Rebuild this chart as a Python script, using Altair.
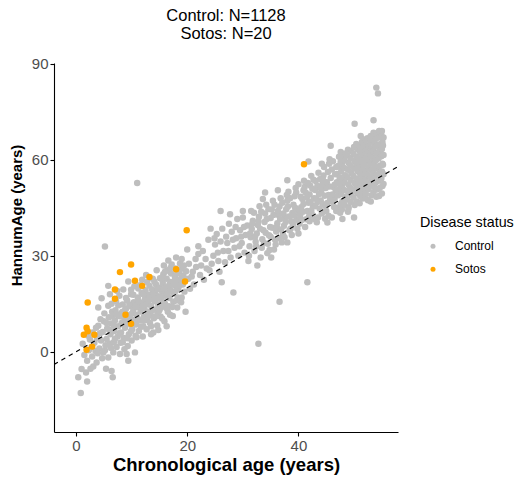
import altair as alt
import pandas as pd

# Sotos patients
sotos_age = [19.9, 9.9, 7.9, 18.0, 13.2, 10.6, 11.9, 19.6, 7.0, 7.0, 2.1, 8.9, 9.9, 1.9, 2.1, 1.4, 3.3, 2.9, 1.9, 41.0]
sotos_hannum = [38.0, 27.3, 24.9, 25.8, 23.4, 22.2, 20.6, 22.0, 19.5, 16.6, 15.4, 11.6, 8.75, 7.5, 6.4, 5.3, 5.3, 1.6, 0.6, 58.6]

# Control cloud (approximate reading of the picture), [age, HannumAge]
ctrl_child = [
    [0.4, -8.0], [0.85, -12.9], [1.0, -5.4], [2.0, -9.3], [2.0, -2.8], [2.6, -5.3], [3.1, -4.6], [3.7, -3.4],
    [1.5, -1.0], [2.3, 0.5], [1.2, 2.5], [2.8, 1.5], [2.5, 3.8], [3.3, 2.8], [1.8, -6.5], [3.0, 6.0],
    [2.2, 5.0], [3.5, 0.2], [2.9, -1.5], [3.8, 4.2],
    [4.0, 8.1], [4.0, 13.8], [4.6, 16.7], [5.8, 20.6], [5.8, 14.4], [5.4, -5.3], [5.8, -1.8], [6.4, -6.0],
    [6.6, -8.0], [4.2, 1.0], [4.5, 3.5], [4.8, 6.2], [5.0, 9.5], [5.2, 0.5], [5.5, 4.0], [5.6, 7.3],
    [5.9, 10.8], [4.3, 5.8], [3.9, -0.5], [4.7, -2.0], [5.1, 12.0], [6.0, 2.6], [6.2, 5.5], [6.3, 8.8],
    [6.5, 12.5], [4.4, 10.2], [5.3, 2.0], [3.6, 7.5], [4.9, -0.2], [5.2, 32.9],
    [6.7, -0.2], [7.9, -0.7], [9.1, -0.7], [10.6, -0.2], [9.4, -2.8], [6.8, 3.0], [6.9, 6.5], [7.0, 9.8],
    [7.1, 13.0], [7.2, 15.8], [7.3, 1.5], [7.5, 4.8], [7.6, 8.0], [7.7, 11.2], [7.8, 17.5], [8.0, 2.8],
    [8.1, 6.0], [8.2, 9.0], [8.3, 12.4], [8.4, 14.8], [8.5, 19.5], [8.6, 4.3], [8.8, 7.5], [8.9, 10.5],
    [9.0, 13.5], [9.2, 16.0], [9.3, 1.8], [9.5, 5.5], [9.6, 8.6], [9.7, 11.6], [9.8, 14.2], [9.9, 18.0],
    [10.0, 3.5], [10.1, 7.0], [10.2, 10.0], [10.3, 12.8], [10.4, 15.5], [10.5, 20.5], [6.6, 11.0], [6.4, 15.0],
    [7.4, 19.0], [8.7, 0.8], [9.4, 22.0], [10.7, 5.0], [6.1, 18.0], [9.9, 19.4],
    [5.5, 9.0], [6.0, 6.8], [6.3, 1.2], [6.8, 8.2], [7.0, 4.0], [7.3, 11.8], [7.6, 14.5], [7.9, 5.9],
    [8.1, 11.0], [8.4, 3.0], [8.6, 9.3], [8.8, 13.0], [9.0, 16.8], [9.2, 4.2], [9.4, 10.0], [9.6, 14.8],
    [9.9, 6.5], [10.1, 12.0], [10.3, 17.8], [10.5, 9.0],
]
ctrl_teen = [
    [10.8, 8.5], [10.9, 11.5], [11.0, 14.0], [11.1, 17.0], [11.2, 19.8], [11.3, 6.5], [11.5, 9.8], [11.6, 12.6],
    [11.7, 15.2], [11.8, 18.4], [11.9, 22.5], [12.0, 4.8], [12.1, 8.0], [12.2, 11.0], [12.3, 13.8], [12.4, 16.5],
    [12.5, 19.2], [12.6, 24.0], [12.7, 7.0], [12.8, 10.2], [12.9, 12.5], [13.0, 15.0], [13.1, 17.8], [13.2, 20.6],
    [13.3, 9.0], [13.4, 11.8], [13.5, 14.4], [13.6, 16.9], [13.7, 19.5], [13.8, 22.8], [13.9, 6.0], [14.0, 10.5],
    [14.1, 13.2], [14.2, 15.8], [14.3, 18.2], [14.4, 21.0], [14.5, 25.5], [14.6, 8.2], [14.7, 12.0], [14.8, 14.6],
    [14.9, 17.3], [15.0, 20.0], [15.1, 23.0], [11.0, 52.8], [13.5, 5.5], [14.8, 6.8],
    [15.2, 11.0], [15.3, 13.8], [15.4, 16.2], [15.5, 18.8], [15.6, 21.5], [15.7, 24.2], [15.8, 27.0], [15.9, 9.5],
    [16.0, 15.0], [16.1, 17.5], [16.2, 20.2], [16.3, 22.8], [16.4, 25.5], [16.5, 12.5], [16.6, 28.5], [16.7, 14.2],
    [16.8, 16.8], [16.9, 19.4], [17.0, 21.8], [17.1, 24.5], [17.2, 27.3], [17.4, 11.2], [17.5, 15.6], [17.6, 18.2],
    [17.7, 20.8], [17.8, 23.3], [17.9, 26.0], [18.0, 29.5], [18.2, 13.8], [18.3, 17.0], [18.4, 19.6], [18.5, 22.4],
    [18.6, 25.0], [18.7, 27.6], [18.9, 15.5], [19.0, 17.0], [19.0, 26.0], [19.0, 29.0], [19.2, 21.0], [19.3, 23.8],
    [19.5, 18.8], [19.7, 12.5], [19.8, 25.2], [20.0, 32.0], [20.5, 19.7], [20.2, 22.8], [20.3, 27.5], [16.3, 8.0],
    [10.7, 14.3], [10.9, 4.5], [11.1, 10.3], [11.3, 15.8], [11.5, 20.8], [11.7, 7.8], [11.9, 13.6], [12.1, 18.0],
    [12.3, 9.8], [12.5, 14.8], [12.8, 21.8], [13.0, 11.2], [13.2, 16.3], [13.5, 8.0], [13.7, 13.0], [13.9, 18.0],
    [14.1, 21.9], [14.3, 11.0], [14.5, 16.5], [14.7, 19.6], [15.0, 13.0], [15.2, 17.2], [15.4, 22.8], [15.6, 14.8],
    [15.8, 19.6], [16.0, 25.0], [16.3, 13.6], [16.5, 18.3], [16.8, 21.0], [17.0, 26.2], [17.3, 14.0], [17.6, 22.0],
    [17.9, 19.0], [18.2, 24.5], [18.6, 20.8], [19.0, 23.2], [19.4, 27.0], [18.1, 16.0], [16.9, 11.6], [15.5, 10.4],
]
ctrl_young = [
    [21.0, 25.0], [22.0, 30.6], [22.0, 33.0], [23.8, 35.0], [22.5, 27.0], [23.5, 26.0], [24.0, 25.5], [21.5, 29.0],
    [23.0, 22.5], [24.7, 30.0], [25.0, 33.5], [25.3, 36.8], [25.6, 28.4], [26.0, 44.0], [26.2, 21.7], [26.3, 38.5],
    [26.5, 31.5], [27.0, 36.0], [27.2, 34.0], [27.5, 40.0], [27.8, 29.5], [28.3, 18.5], [28.0, 37.5], [28.5, 32.5],
    [28.8, 35.5], [29.0, 41.5], [29.2, 30.0], [29.5, 38.0], [29.8, 34.0], [30.0, 42.0], [30.0, 44.0], [30.3, 31.0],
    [30.5, 36.5], [30.8, 39.5], [24.2, 38.5], [21.2, 21.0], [25.8, 25.0],
    [20.8, 23.5], [21.6, 26.5], [22.3, 24.0], [22.8, 31.5], [23.3, 29.0], [24.4, 27.5], [24.9, 35.5], [25.5, 31.0],
    [26.0, 34.5], [26.8, 28.0], [27.4, 31.5], [28.2, 35.0], [28.7, 39.0], [29.4, 33.0], [29.7, 36.0], [30.2, 39.0],
    [27.7, 43.0],
]
ctrl_mid = [
    [31.0, 28.4], [33.2, 29.5], [31.2, 33.0], [31.4, 35.8], [31.6, 38.4], [31.8, 41.0], [32.0, 43.5], [32.1, 31.5],
    [32.3, 34.4], [32.5, 37.0], [32.7, 39.6], [32.8, 2.5], [32.9, 42.2], [33.0, 45.5], [33.4, 32.5], [33.5, 35.2],
    [33.7, 38.0], [33.9, 40.6], [34.0, 49.8], [34.0, 43.2], [34.2, 46.0], [34.4, 30.8], [34.5, 33.8], [34.7, 36.4],
    [34.9, 39.0], [35.0, 41.8], [35.2, 44.5], [35.4, 47.2], [35.6, 32.0], [35.8, 35.0], [36.0, 37.6], [36.2, 40.2],
    [36.4, 42.8], [36.6, 15.6], [36.6, 45.4], [36.8, 48.0], [37.0, 34.2], [37.2, 36.8], [37.4, 39.4], [37.6, 42.0],
    [37.8, 44.6], [38.0, 53.6], [38.0, 47.2], [38.0, 34.2], [38.2, 50.0], [38.4, 38.0], [38.6, 38.5], [38.7, 40.8],
    [38.9, 43.4], [39.1, 46.0], [39.3, 48.6], [39.5, 51.2], [39.7, 41.2], [39.9, 44.0], [40.0, 52.4], [40.0, 37.0],
    [36.3, 50.5], [35.1, 29.5], [33.6, 47.8], [31.5, 44.0], [32.6, 27.0],
    [31.1, 30.0], [31.3, 37.0], [31.7, 40.0], [32.2, 36.0], [32.4, 33.0], [32.8, 40.8], [33.1, 38.5], [33.3, 43.8],
    [33.8, 34.0], [34.1, 37.2], [34.3, 41.5], [34.6, 44.6], [34.8, 31.8], [35.0, 36.0], [35.3, 38.8], [35.5, 42.8],
    [35.7, 46.0], [35.9, 33.5], [36.1, 39.0], [36.3, 44.0], [36.5, 35.5], [36.7, 41.5], [36.9, 38.2], [37.1, 46.6],
    [37.3, 43.2], [37.5, 35.8], [37.7, 40.6], [37.9, 49.0], [38.1, 45.4], [38.3, 42.3], [38.5, 48.0], [38.8, 36.5],
    [39.0, 39.8], [39.2, 42.6], [39.4, 45.0], [39.6, 49.8], [39.8, 38.5],
]
ctrl_older = [
    [40.2, 40.0], [40.3, 42.6], [40.5, 45.2], [40.7, 47.8], [40.9, 50.5], [41.0, 53.5], [41.2, 39.0], [41.4, 41.4],
    [41.6, 21.7], [41.6, 44.0], [41.8, 46.6], [41.8, 59.5], [42.0, 49.2], [42.1, 52.0], [42.3, 55.0], [42.4, 43.0],
    [42.6, 45.6], [42.8, 48.0], [43.0, 50.6], [43.1, 53.4], [43.3, 40.5], [43.5, 42.0], [43.6, 56.0], [43.8, 44.8],
    [44.0, 47.3], [44.1, 49.9], [44.3, 52.4], [44.5, 55.1], [44.6, 57.8], [44.8, 41.6], [45.0, 44.0], [45.2, 40.4],
    [45.2, 46.5], [45.4, 49.0], [45.6, 51.7], [45.8, 64.4], [45.8, 54.3], [46.0, 42.0], [46.0, 57.0], [46.2, 59.6],
    [46.4, 45.3], [46.5, 47.8], [46.7, 50.4], [46.9, 53.0], [47.0, 55.6], [47.2, 58.2], [47.3, 61.0], [47.5, 43.5],
    [47.6, 46.2], [40.4, 48.5], [40.8, 43.8], [41.1, 51.5], [41.5, 48.2], [41.9, 42.3], [42.2, 46.9], [42.5, 51.0],
    [42.7, 53.8], [43.0, 45.5], [43.2, 47.9], [43.4, 51.8], [43.9, 54.0], [44.2, 43.2], [44.4, 46.1], [44.7, 48.8],
    [44.9, 51.2], [45.1, 53.0], [45.3, 56.2], [45.5, 58.8], [45.7, 47.6], [46.1, 49.2], [46.3, 51.5], [46.6, 55.5],
    [46.8, 44.0], [47.1, 48.9], [47.4, 52.4], [47.7, 57.3], [47.9, 41.5],
    [40.1, 44.3], [40.6, 41.2], [40.9, 46.2], [41.3, 49.8], [41.7, 52.8], [42.0, 40.8], [42.3, 44.2], [42.9, 41.5],
    [43.4, 46.8], [43.7, 49.3], [44.0, 51.2], [44.4, 53.8], [44.9, 45.5], [45.4, 42.5], [45.6, 60.2], [46.2, 46.8],
    [46.5, 52.2], [47.0, 45.0], [47.2, 50.6], [47.4, 54.5], [47.6, 59.5], [46.8, 57.8], [44.2, 58.8],
]
ctrl_old = [
    [47.8, 44.5], [47.9, 47.0], [47.7, 49.3], [47.8, 51.8], [47.9, 53.9], [47.7, 56.4], [47.8, 58.7], [47.9, 60.9], [47.6, 62.5],
    [48.3, 46.0], [48.4, 48.4], [48.2, 50.6], [48.3, 52.9], [48.4, 55.2], [48.2, 57.5], [48.3, 59.8], [48.4, 62.0],
    [48.9, 43.8], [49.0, 45.2], [48.8, 47.6], [48.9, 50.0], [49.0, 52.2], [48.8, 54.6], [48.9, 56.9], [49.0, 59.1], [48.8, 61.4], [48.9, 63.2],
    [49.4, 46.8], [49.5, 49.1], [49.3, 51.3], [49.4, 53.7], [49.5, 55.9], [49.3, 58.3], [49.4, 60.5], [49.5, 62.8], [49.0, 44.7],
    [50.0, 42.0], [50.1, 45.9], [49.9, 48.2], [50.0, 50.5], [50.1, 52.8], [49.9, 55.0], [50.0, 57.4], [50.1, 59.6], [49.9, 61.9], [50.0, 64.0],
    [50.5, 47.0], [50.6, 49.6], [50.4, 51.9], [50.5, 54.1], [50.6, 56.5], [50.4, 58.8], [50.5, 61.0], [50.6, 63.3], [50.4, 65.0],
    [51.0, 46.4], [51.1, 48.7], [50.9, 51.0], [51.0, 53.3], [51.1, 55.6], [50.9, 57.9], [51.0, 60.2], [51.1, 62.4], [50.9, 64.6], [50.1, 71.3], [51.2, 67.5],
    [51.5, 47.9], [51.6, 50.2], [51.4, 52.5], [51.5, 54.8], [51.6, 57.0], [51.4, 59.3], [51.5, 61.6], [51.6, 63.9], [51.4, 65.6],
    [52.0, 48.0], [52.1, 49.4], [51.9, 51.6], [52.0, 53.9], [52.1, 56.2], [51.9, 58.5], [52.0, 60.7], [52.1, 63.0], [51.9, 65.2], [52.0, 66.4],
    [52.5, 47.4], [52.6, 50.8], [52.4, 53.0], [52.5, 55.3], [52.6, 57.7], [52.4, 59.9], [52.5, 62.2], [52.6, 64.4], [52.4, 66.8],
    [53.0, 47.0], [53.1, 48.9], [52.9, 52.2], [53.0, 54.5], [53.1, 56.8], [52.9, 59.0], [53.0, 61.3], [53.1, 63.6], [52.9, 65.8], [53.0, 67.5],
    [53.5, 49.8], [53.6, 51.5], [53.4, 53.7], [53.5, 56.0], [53.6, 58.3], [53.4, 60.6], [53.5, 62.8], [53.6, 65.1], [53.4, 67.3], [53.5, 68.5], [53.5, 72.4],
    [54.0, 48.5], [54.1, 50.7], [53.9, 52.9], [54.0, 55.2], [54.1, 57.5], [53.9, 59.7], [54.0, 62.0], [54.1, 64.3], [53.9, 66.5], [54.0, 68.2], [54.0, 82.6], [54.3, 80.8],
    [54.5, 48.7], [54.6, 51.2], [54.4, 53.5], [54.5, 55.8], [54.6, 58.1], [54.4, 60.4], [54.5, 62.6], [54.6, 64.9], [54.4, 67.0], [54.5, 69.0],
    [55.0, 49.5], [55.1, 51.8], [54.9, 54.2], [55.0, 56.4], [55.1, 58.8], [54.9, 61.1], [55.0, 63.4], [55.1, 65.6], [54.9, 67.8], [55.0, 69.0],
    [55.3, 52.5], [55.3, 55.5], [55.2, 58.5], [55.3, 61.5], [55.2, 64.5], [55.3, 67.0],
]

status_levels = ["Control", "Sotos"]
status_colors = ["#BEBEBE", "#FFA500"]
x_ticks = [0, 20, 40]
y_ticks = [0, 30, 60, 90]
x_domain = [-3.96, 57.9]
y_domain = [-25.1, 90.3]
identity_x = [-3.96, 57.9]

rows = []
for grp in [ctrl_child, ctrl_teen, ctrl_young, ctrl_mid, ctrl_older, ctrl_old]:
    for a, h in grp:
        rows.append({"age": a, "hannum": h, "status": "Control"})
for a, h in zip(sotos_age, sotos_hannum):
    rows.append({"age": a, "hannum": h, "status": "Sotos"})
df = pd.DataFrame(rows)
line_df = pd.DataFrame({"age": identity_x, "hannum": identity_x})

FONT = "Liberation Sans"

xs = alt.Scale(domain=x_domain, nice=False, zero=False)
ys = alt.Scale(domain=y_domain, nice=False, zero=False)

points = alt.Chart(df).mark_circle(size=42, opacity=1).encode(
    x=alt.X("age:Q", scale=xs, axis=alt.Axis(
        values=x_ticks, title="Chronological age (years)", titleFontSize=18.5,
        titleBaseline="alphabetic", titleY=38.5)),
    y=alt.Y("hannum:Q", scale=ys, axis=alt.Axis(
        values=y_ticks, title="HannumAge (years)", titleFontSize=15,
        titleBaseline="middle", titleX=-38, titleY=152)),
    color=alt.Color("status:N", scale=alt.Scale(domain=status_levels, range=status_colors),
                    legend=alt.Legend(title="Disease status", orient="none", legendX=366, legendY=153)),
    order=alt.Order("status:N"),
)

line = alt.Chart(line_df).mark_line(color="black", strokeDash=[4.5, 4], strokeWidth=1.1, clip=True).encode(
    x=alt.X("age:Q", scale=xs),
    y=alt.Y("hannum:Q", scale=ys),
)

chart = alt.layer(points, line).properties(
    width=344, height=369,
    title=alt.TitleParams(text=["Control: N=1128", "Sotos: N=20"], anchor="middle", frame="group",
                          fontSize=16.5, fontWeight="normal", font=FONT, color="black",
                          offset=14, lineHeight=18),
    autosize=alt.AutoSizeParams(type="none"),
    padding={"left": 54, "top": 63, "right": 119, "bottom": 52},
    background="white",
).configure_view(stroke=None).configure_axis(
    grid=False, domainColor="black", domainWidth=1.1, tickColor="black", tickWidth=1.1, tickSize=4,
    labelColor="#4D4D4D", labelFontSize=15, labelFont=FONT, labelPadding=2,
    titleFont=FONT, titleFontWeight="bold", titleColor="black",
).configure_legend(
    titleFont=FONT, titleFontSize=14.3, titleFontWeight="normal", titleColor="black",
    labelFont=FONT, labelFontSize=12, labelColor="black",
    symbolSize=25, symbolType="circle", symbolOffset=7, labelOffset=16,
    rowPadding=11, titlePadding=10, padding=0, symbolStrokeWidth=0,
)

chart.save("out.html", embed_options={"renderer": "svg", "actions": False})
